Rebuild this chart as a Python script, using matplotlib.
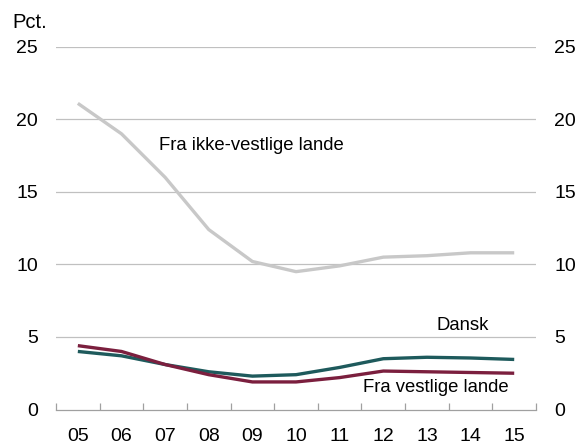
import matplotlib.pyplot as plt
import numpy as np

plt.rcParams["font.family"] = ["Liberation Sans", "DejaVu Sans"]

years = ["05", "06", "07", "08", "09", "10", "11", "12", "13", "14", "15"]
ikke_vestlige = [21.1, 19.0, 16.0, 12.4, 10.2, 9.5, 9.9, 10.5, 10.6, 10.8, 10.8]
dansk = [4.0, 3.7, 3.1, 2.6, 2.3, 2.4, 2.9, 3.5, 3.6, 3.55, 3.45]
vestlige = [4.4, 4.0, 3.1, 2.4, 1.9, 1.9, 2.2, 2.65, 2.6, 2.55, 2.5]
yticks = [0, 5, 10, 15, 20, 25]

x = np.arange(len(years))

fig = plt.figure(figsize=(5.8, 4.44), dpi=100)
ax = fig.add_axes([0.0966, 0.0777, 0.8276, 0.817])

for yv in yticks[1:]:
    ax.axhline(yv, color="#c0c0c0", linewidth=0.9, zorder=0)

ax.plot(x, ikke_vestlige, color="#c8c8c8", linewidth=2.4, solid_capstyle="butt")
ax.plot(x, dansk, color="#1e5a5c", linewidth=2.4, solid_capstyle="butt")
ax.plot(x, vestlige, color="#7b1f3e", linewidth=2.4, solid_capstyle="butt")

ax.set_xlim(-0.5, len(years) - 0.5)
ax.set_ylim(0, 25)
ax.set_yticks(yticks)
ax.set_xticks(x)
ax.set_xticklabels(years)
ax.set_xticks(np.arange(-0.5, len(years)), minor=True)

for s in ["top", "left", "right"]:
    ax.spines[s].set_visible(False)
ax.spines["bottom"].set_color("#a0a0a0")
ax.spines["bottom"].set_linewidth(0.9)

ax.tick_params(axis="x", which="major", length=0, labelsize=14, pad=13.5)
ax.tick_params(axis="x", which="minor", length=5, direction="in",
               color="#a0a0a0", width=0.9)
ax.tick_params(axis="y", length=0, labelsize=14, pad=13,
               labelleft=True, labelright=True)

ax.text(1.85, 18.2, "Fra ikke-vestlige lande", fontsize=13.3, ha="left", va="center")
ax.text(8.81, 5.77, "Dansk", fontsize=13.3, ha="center", va="center")
ax.text(6.54, 1.49, "Fra vestlige lande", fontsize=13.3, ha="left", va="center")

fig.text(12 / 580, 1 - 22 / 444, "Pct.", fontsize=14.5, ha="left", va="center")

fig.savefig("out.png", dpi=100)
